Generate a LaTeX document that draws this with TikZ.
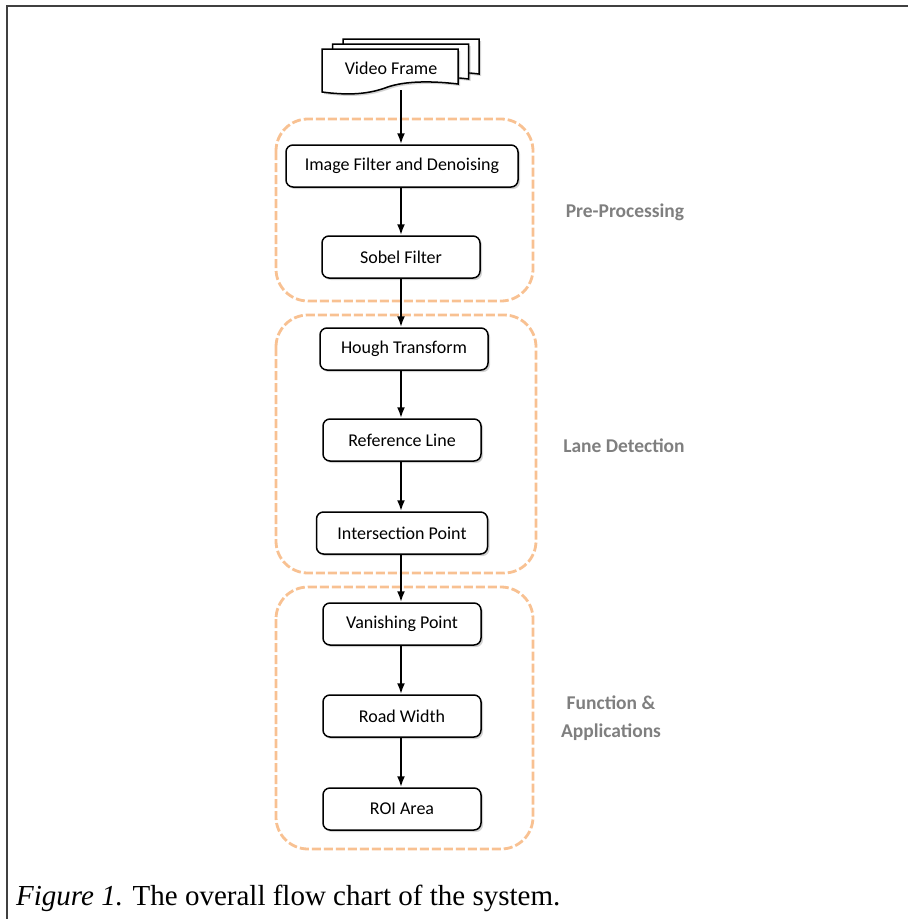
\documentclass[tikz,border=0pt]{standalone}
\usepackage{fontspec}
\setmainfont{Liberation Serif}
\newfontfamily\boxfont{Carlito}
\usetikzlibrary{shadows,arrows.meta}
\definecolor{peach}{HTML}{F8C192}
\definecolor{lblgray}{HTML}{7F7F7F}

\begin{document}
\begin{tikzpicture}[x=1pt,y=-1pt,
	proc/.style={rectangle,draw,line width=1.5pt,rounded corners=7pt,fill=white,minimum height=42pt,inner sep=2pt,
		font=\boxfont\fontsize{18}{22}\selectfont,
		drop shadow={shadow xshift=2pt,shadow yshift=-2pt,opacity=0.35}},
	grp/.style={draw=peach,line width=2.8pt,rounded corners=32pt,dash pattern=on 9pt off 3pt},
	lbl/.style={font=\boxfont\bfseries\fontsize{19.5}{28}\selectfont,text=lblgray,align=center},
	flow/.style={-{Latex[length=11pt,width=8pt]},line width=2pt}]
	\useasboundingbox (0,0) rectangle (908,919);
	\draw[line width=1.3pt,black!75] (7,919) -- (7,6) -- (908,6);
	% groups
	\draw[grp] (276,119) rectangle (533,301);
	\draw[grp] (276,315) rectangle (536,573);
	\draw[grp] (276,587) rectangle (533,849);
	\node [lbl] (pre) at (625,212) {Pre-Processing};
	\node [lbl] (lane) at (624,446) {Lane Detection};
	\node [lbl] (fun) at (611,718) {Function \&\\Applications};
	% video frame pages
	\foreach \dx/\dy in {21/-10,10.5/-5,0/0}
		\draw[line width=1.5pt,fill=white,xshift=\dx pt,yshift=-\dy pt,
			drop shadow={shadow xshift=2pt,shadow yshift=-2pt,opacity=0.35}]
			(322,49) -- (458,49) -- (458,84) .. controls (425,80) and (400,82) .. (385,88)
			.. controls (365,95) and (345,95) .. (322,92) -- cycle;
	\node [font=\boxfont\fontsize{18}{22}\selectfont] (vf) at (391,68) {Video Frame};
	\coordinate (vfb) at (401,90);
	% steps
	\node [proc,minimum width=232pt] (img) at (402,166) {Image Filter and Denoising};
	\node [proc,minimum width=158pt] (sob) at (401,257) {Sobel Filter};
	\node [proc,minimum width=168pt] (hou) at (404,349) {Hough Transform};
	\node [proc,minimum width=158pt] (ref) at (402,440) {Reference Line};
	\node [proc,minimum width=171pt] (int) at (402,533) {Intersection Point};
	\node [proc,minimum width=158pt] (van) at (402,624) {Vanishing Point};
	\node [proc,minimum width=158pt] (road) at (402,716) {Road Width};
	\node [proc,minimum width=158pt] (roi) at (402,809) {ROI Area};
	% arrows
	\draw[flow] (vfb) -- (vfb |- img.north);
	\draw[flow] (vfb |- img.south) -- (vfb |- sob.north);
	\draw[flow] (vfb |- sob.south) -- (vfb |- hou.north);
	\draw[flow] (vfb |- hou.south) -- (vfb |- ref.north);
	\draw[flow] (vfb |- ref.south) -- (vfb |- int.north);
	\draw[flow] (vfb |- int.south) -- (vfb |- van.north);
	\draw[flow] (vfb |- van.south) -- (vfb |- road.north);
	\draw[flow] (vfb |- road.south) -- (vfb |- roi.north);
	% caption
	\node [anchor=base west,inner sep=0pt,font=\fontsize{29}{34}\selectfont] (cap) at (16,905)
		{\textit{Figure 1.} The overall flow chart of the system.};
\end{tikzpicture}
\end{document}
